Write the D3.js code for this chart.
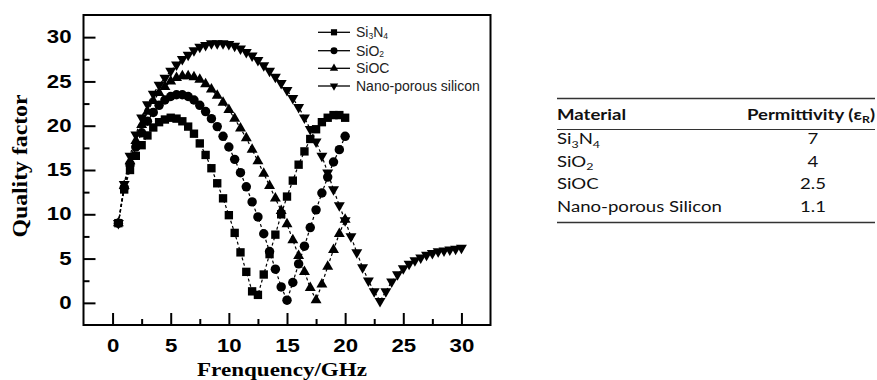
<!DOCTYPE html>
<html><head><meta charset="utf-8">
<script src="https://cdn.jsdelivr.net/npm/d3@7"></script>
<style>body{margin:0;background:#fff} svg{display:block}</style>
</head><body>
<svg id="c" width="877" height="380"></svg>
<script>
// ---------------- data ----------------
const freqLow = [0.5,1,1.5,2,2.5,3,3.5,4,4.5,5,5.5,6,6.5,7,7.5,8,8.5,9,9.5,10,
  10.5,11,11.5,12,12.5,13,13.5,14,14.5,15,15.5,16,16.5,17,17.5,18,18.5,19,19.5,20];
const freqHigh = [0.5,1,1.5,2,2.5,3,3.5,4,4.5,5,5.5,6,6.5,7,7.5,8,8.5,9,9.5,10,
  10.5,11,11.5,12,12.5,13,13.5,14,14.5,15,15.5,16,16.5,17,17.5,18,18.5,19,19.5,20,
  20.5,21,21.5,22,22.5,23,23.5,24,24.5,25,25.5,26,26.5,27,27.5,28,28.5,29,29.5,30];
const qSi3N4 = [9.0,12.8,15.0,16.6,17.8,18.9,19.8,20.4,20.7,20.9,20.8,20.5,19.9,19.1,18.0,16.7,15.2,13.5,11.8,9.9,
  7.9,5.7,3.5,1.3,0.9,3.2,5.5,7.7,10.0,12.0,13.8,15.6,17.1,18.5,19.6,20.4,20.9,21.2,21.2,20.9];
const qSiO2 = [9.0,13.0,15.6,17.6,19.2,20.5,21.5,22.3,22.9,23.3,23.5,23.5,23.3,22.9,22.3,21.6,20.8,19.9,18.8,17.6,
  16.2,14.7,13.1,11.4,9.7,7.8,5.8,3.8,1.8,0.3,2.3,4.4,6.4,8.5,10.5,12.4,14.2,15.9,17.3,18.8];
const qSiOC = [9.0,13.2,16.0,18.3,20.1,21.6,22.8,23.7,24.4,25.0,25.4,25.6,25.6,25.5,25.2,24.7,24.1,23.4,22.6,21.8,
  20.8,19.7,18.6,17.3,16.0,14.6,13.2,11.8,10.4,8.9,7.1,5.3,3.5,1.7,0.3,2.1,4.1,6.0,7.8,9.4];
const qNano = [9.0,13.4,16.6,19.0,20.9,22.4,23.6,24.6,25.4,26.2,26.9,27.5,28.0,28.5,28.9,29.1,29.3,29.3,29.3,29.2,
  29.0,28.7,28.3,27.9,27.4,26.8,26.2,25.5,24.8,24.0,23.1,22.1,20.9,19.6,18.2,16.6,14.7,12.8,11.0,9.3,
  7.5,5.7,4.0,2.5,1.3,0.2,1.3,2.4,3.2,3.9,4.4,4.8,5.1,5.4,5.6,5.8,5.9,6.0,6.1,6.2];
const seriesNames = ["Si3N4","SiO2","SiOC","Nano-porous silicon"];
const xMajorTicks = [0,5,10,15,20,25,30];
const xMinorTicks = [2.5,7.5,12.5,17.5,22.5,27.5];
const yMajorTicks = [0,5,10,15,20,25,30];
const yMinorTicks = [2.5,7.5,12.5,17.5,22.5,27.5];
const tableMaterials = ["Si3N4","SiO2","SiOC","Nano-porous Silicon"];
const tablePermittivity = ["7","4","2.5","1.1"];

// ---------------- chart ----------------
const svg = d3.select('#c');
const x = d3.scaleLinear().domain([-2.5,32.5]).range([83.5,490.5]);
const y = d3.scaleLinear().domain([-2.5,32.5]).range([325,15]);
const STR = 1.27;

const series = [
  {name:seriesNames[0], fx:freqLow,  q:qSi3N4, sym:d3.symbolSquare,   size:70, rot:0},
  {name:seriesNames[1], fx:freqLow,  q:qSiO2,  sym:d3.symbolCircle,   size:70, rot:0},
  {name:seriesNames[2], fx:freqLow,  q:qSiOC,  sym:d3.symbolTriangle, size:52, rot:0},
  {name:seriesNames[3], fx:freqHigh, q:qNano,  sym:d3.symbolTriangle, size:52, rot:180}
];

// axes (ticks inward)
function styleAxis(g){
  g.select('.domain').remove();
  g.selectAll('line').attr('stroke','#000').attr('stroke-width',2);
}
const gx = svg.append('g').attr('transform','translate(0,325)')
  .call(d3.axisBottom(x).tickValues(xMajorTicks).tickSize(-12).tickPadding(15).tickFormat(d3.format('d')));
styleAxis(gx);
gx.selectAll('text').attr('font-family','Liberation Sans, Arial, sans-serif').attr('font-weight','bold')
  .attr('font-size',17.5).attr('fill','#000').attr('transform',`scale(${STR},1)`);
const gxm = svg.append('g').attr('transform','translate(0,325)')
  .call(d3.axisBottom(x).tickValues(xMinorTicks).tickSize(-6).tickFormat(''));
styleAxis(gxm);

const gy = svg.append('g').attr('transform','translate(83.5,0)')
  .call(d3.axisLeft(y).tickValues(yMajorTicks).tickSize(-12).tickPadding(12).tickFormat(d3.format('d')));
styleAxis(gy);
gy.selectAll('text').attr('font-family','Liberation Sans, Arial, sans-serif').attr('font-weight','bold')
  .attr('font-size',17.5).attr('fill','#000').attr('transform',`translate(-12,0) scale(${STR},1) translate(12,0)`);
const gym = svg.append('g').attr('transform','translate(83.5,0)')
  .call(d3.axisLeft(y).tickValues(yMinorTicks).tickSize(-6).tickFormat(''));
styleAxis(gym);

// frame
svg.append('rect').attr('x',x.range()[0]).attr('y',y.range()[1])
  .attr('width',x.range()[1]-x.range()[0]).attr('height',y.range()[0]-y.range()[1])
  .attr('fill','none').attr('stroke','#000').attr('stroke-width',2);

// series
const line = d3.line().x(d=>x(d[0])).y(d=>y(d[1]));
series.forEach(s=>{
  const pts = s.fx.map((f,i)=>[f,s.q[i]]);
  svg.append('path').attr('d',line(pts)).attr('fill','none').attr('stroke','#000')
    .attr('stroke-width',1.2).attr('stroke-dasharray','3,2.5');
  svg.append('g').selectAll('path').data(pts).join('path')
    .attr('d',d3.symbol().type(s.sym).size(s.size))
    .attr('transform',d=>`translate(${x(d[0])},${y(d[1])}) rotate(${s.rot})`)
    .attr('fill','#000');
});

// axis titles
svg.append('text').attr('transform','rotate(-90)').attr('x',-166).attr('y',27)
  .attr('text-anchor','middle').attr('font-family','Liberation Serif, Times New Roman, serif')
  .attr('font-weight','bold').attr('font-size',20).attr('textLength',143).attr('lengthAdjust','spacingAndGlyphs')
  .text('Quality factor');
svg.append('text').attr('x',282).attr('y',375.5).attr('text-anchor','middle')
  .attr('font-family','Liberation Serif, Times New Roman, serif').attr('font-weight','bold')
  .attr('font-size',18).attr('textLength',170).attr('lengthAdjust','spacingAndGlyphs')
  .text('Frenquency/GHz');

// formula helper: digits as subscripts
function formula(textSel, str, fs, subFs, shift){
  const parts = str.match(/\d+|[^\d]+/g);
  let down = false;
  parts.forEach(p=>{
    const isSub = /^\d+$/.test(p);
    const t = textSel.append('tspan').text(p).attr('font-size', isSub?subFs:fs);
    if(isSub && !down){ t.attr('dy',shift); down=true; }
    else if(!isSub && down){ t.attr('dy',-shift); down=false; }
  });
}

// legend
const legY = [32.3,50.7,68.3,86];
series.forEach((s,i)=>{
  const g = svg.append('g').attr('transform',`translate(0,${legY[i]})`);
  g.append('line').attr('x1',318).attr('x2',350).attr('y1',0).attr('y2',0).attr('stroke','#000').attr('stroke-width',1.3);
  g.append('path').attr('d',d3.symbol().type(s.sym).size(s.sym===d3.symbolTriangle?30:38))
    .attr('transform',`translate(334,0) rotate(${s.rot})`).attr('fill','#000');
  const t = g.append('text').attr('x',356).attr('y',5).attr('font-family','Liberation Sans, Arial, sans-serif')
    .attr('font-size',14).attr('fill','#222');
  formula(t, s.name, 14, 8.5, 1.5);
});

// ---------------- table ----------------
const TX0 = 557, TX1 = 875, TS = 1.24;
[[98.5,1.4],[129.5,1.0],[222.5,1.4]].forEach(([yy,w])=>{
  svg.append('line').attr('x1',TX0).attr('x2',TX1).attr('y1',yy).attr('y2',yy)
    .attr('stroke','#333').attr('stroke-width',w);
});
const tg = svg.append('g').attr('transform',`translate(${TX0},0) scale(${TS},1)`)
  .attr('font-family','Lato, Noto Sans, sans-serif').attr('fill','#111');
tg.append('text').attr('x',0).attr('y',120).attr('font-weight','bold').attr('font-size',15).text('Material');
const ph = tg.append('text').attr('x',(TX1-TX0)/TS).attr('y',120).attr('text-anchor','end')
  .attr('font-weight','bold').attr('font-size',15);
ph.append('tspan').text('Permittivity (ε');
ph.append('tspan').text('R').attr('font-size',10).attr('dy',3);
ph.append('tspan').text(')').attr('dy',-3);
const rowY = [144.5,167,189.5,212];
tableMaterials.forEach((m,i)=>{
  const t = tg.append('text').attr('x',0).attr('y',rowY[i]).attr('font-size',15);
  formula(t, m, 15, 10, 3.5);
  tg.append('text').attr('x',(813-TX0)/TS).attr('y',rowY[i]).attr('text-anchor','middle')
    .attr('font-size',15).text(tablePermittivity[i]);
});
</script>
</body></html>
